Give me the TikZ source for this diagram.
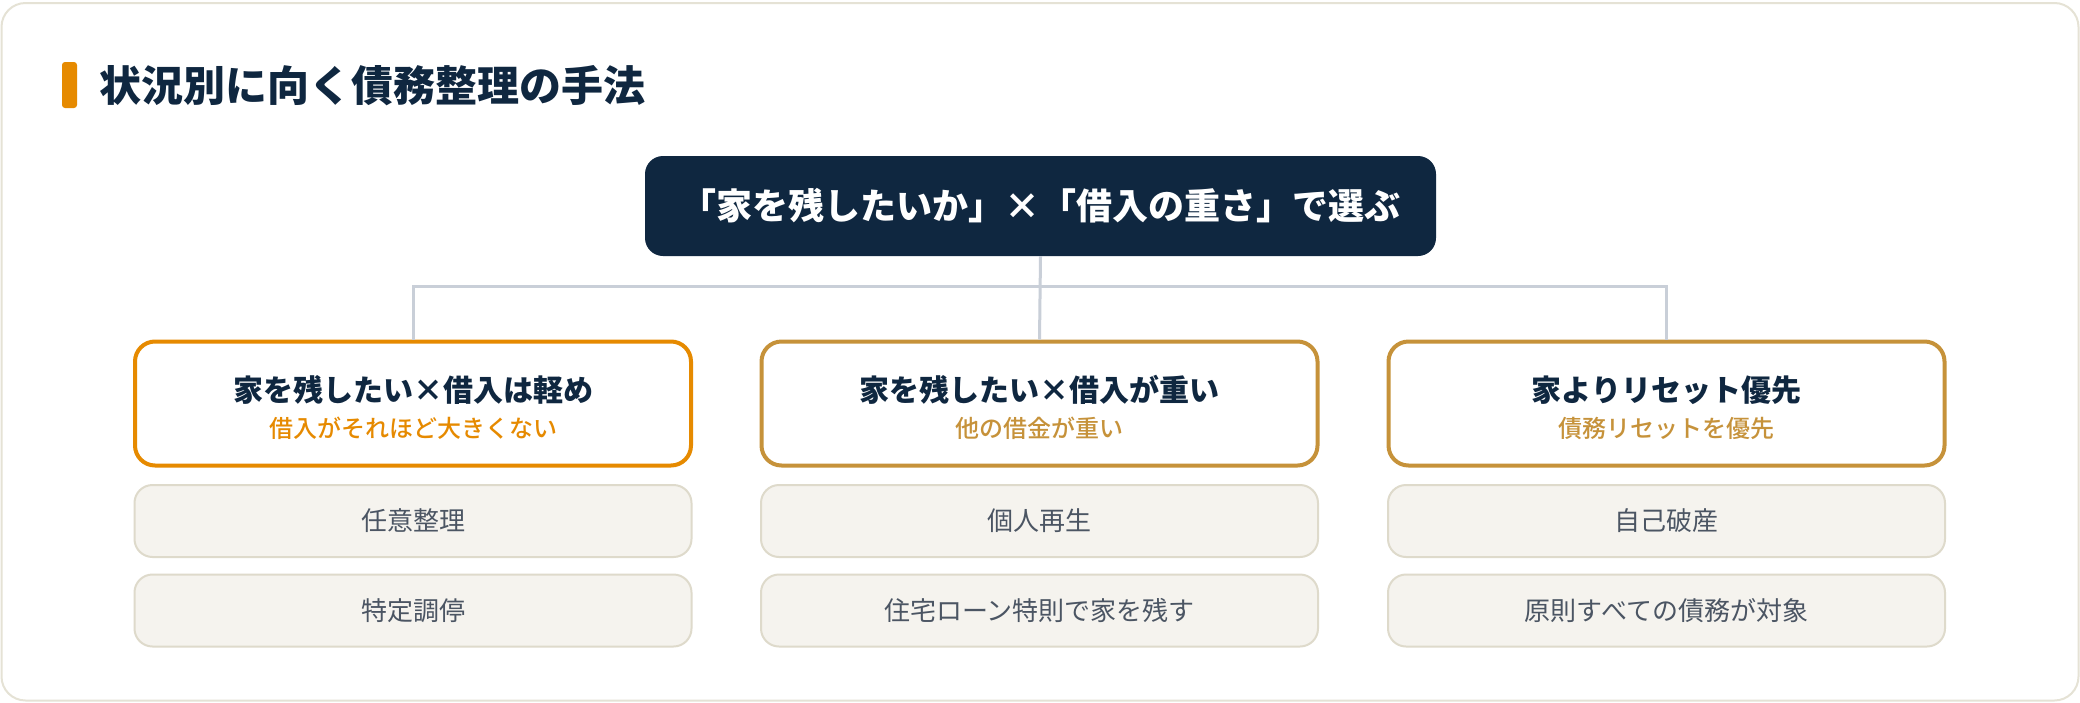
\documentclass[tikz,border=0pt]{standalone}
\usepackage{fontspec}
\setmainfont{Noto Sans CJK JP}
\newfontfamily\jpmed{Noto Sans CJK JP}[UprightFont=* Medium]
\definecolor{navy}{HTML}{0F2740}
\definecolor{orangeA}{HTML}{E68A00}
\definecolor{gold}{HTML}{C6923A}
\definecolor{linec}{HTML}{C9CFD8}
\definecolor{cardfill}{HTML}{F5F3EE}
\definecolor{cardline}{HTML}{DEDACB}
\definecolor{graytext}{HTML}{4B5563}
\definecolor{outerline}{HTML}{E5E2D5}
\tikzset{
  topbox/.style={fill=navy, draw=none, rounded corners=18pt, minimum width=791pt, minimum height=100pt, inner sep=0pt},
  headbox/.style={fill=white, draw=#1, line width=4pt, rounded corners=20pt, minimum width=556pt, minimum height=124pt, inner sep=0pt},
  itembox/.style={fill=cardfill, draw=cardline, line width=2pt, rounded corners=18pt, minimum width=557pt, minimum height=72pt, inner sep=0pt, text=graytext, font=\fontsize{26}{26}\selectfont},
  headtitle/.style={text=navy, font=\fontsize{30}{30}\selectfont\bfseries, inner sep=0pt},
  headsub/.style={text=#1, font=\jpmed\fontsize{24}{24}\selectfont, inner sep=0pt},
  conn/.style={draw=linec, line width=3pt},
}
\begin{document}
\begin{tikzpicture}[x=1pt,y=-1pt]
\useasboundingbox (0,0) rectangle (2080,702);
\draw[outerline, line width=2pt, fill=white, rounded corners=24pt] (1.5,3) rectangle (2078.5,700.5);
% title
\fill[orangeA, rounded corners=3pt] (62,62) rectangle (77,108);
\node[anchor=west, inner sep=0pt, text=navy, font=\fontsize{42}{42}\selectfont\bfseries] (title) at (99,86) {状況別に向く債務整理の手法};
% top box
\node[topbox] (top) at (1040.5,206) {};
\node[text=white, font=\fontsize{36}{36}\selectfont\bfseries, inner sep=0pt] (toptext) at (top.center) {「家を残したいか」×「借入の重さ」で選ぶ};
% head boxes
\node[headbox=orangeA] (h1) at (413,403.5) {};
\node[headbox=gold] (h2) at (1039.5,403.5) {};
\node[headbox=gold] (h3) at (1666.5,403.5) {};
\node[headtitle] (t1) at (413,390) {家を残したい×借入は軽め};
\node[headsub=orangeA] (s1) at (413,428) {借入がそれほど大きくない};
\node[headtitle] (t2) at (1039.5,390) {家を残したい×借入が重い};
\node[headsub=gold] (s2) at (1039.5,428) {他の借金が重い};
\node[headtitle] (t3) at (1666.5,390) {家よりリセット優先};
\node[headsub=gold] (s3) at (1666.5,428) {債務リセットを優先};
% items
\node[itembox] (a1) at (413,521) {任意整理};
\node[itembox] (a2) at (413,610.5) {特定調停};
\node[itembox] (b1) at (1039.5,521) {個人再生};
\node[itembox] (b2) at (1039.5,610.5) {住宅ローン特則で家を残す};
\node[itembox] (c1) at (1666.5,521) {自己破産};
\node[itembox] (c2) at (1666.5,610.5) {原則すべての債務が対象};
% connectors
\coordinate (hb) at (1040,286);
\draw[conn] (top.south) -- (h2.north);
\draw[conn] (h1.north) -- (h1.north |- hb) -- (h3.north |- hb) -- (h3.north);
\end{tikzpicture}
\end{document}
